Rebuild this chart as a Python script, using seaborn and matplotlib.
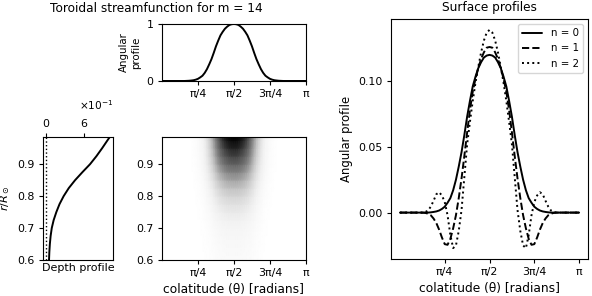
import numpy as np
import pandas as pd
import seaborn as sns
import matplotlib.pyplot as plt

# half profiles: from the equator (pi/2) outward, steps of pi/64
angular_half = [1.0, 0.996, 0.983, 0.954, 0.917, 0.863, 0.800, 0.708, 0.608, 0.492, 0.383,
                0.292, 0.208, 0.142, 0.092, 0.063, 0.038, 0.023, 0.013, 0.008, 0.004, 0.002,
                0, 0, 0, 0, 0, 0, 0, 0, 0, 0, 0]
n0_half = [0.1200, 0.1195, 0.1180, 0.1145, 0.1100, 0.1035, 0.0960, 0.0850, 0.0730, 0.0590,
           0.0460, 0.0350, 0.0250, 0.0170, 0.0110, 0.0075, 0.0045, 0.0028, 0.0016, 0.0009,
           0.0005, 0.0002, 0, 0, 0, 0, 0, 0, 0, 0, 0, 0, 0]
n1_half = [0.126, 0.1255, 0.122, 0.117, 0.110, 0.102, 0.092, 0.078, 0.061, 0.043, 0.026,
           0.011, -0.002, -0.012, -0.020, -0.0245, -0.024, -0.019, -0.013, -0.008, -0.0045,
           -0.002, -0.0008, -0.0002, 0, 0, 0, 0, 0, 0, 0, 0, 0]
n2_half = [0.139, 0.137, 0.131, 0.122, 0.111, 0.099, 0.085, 0.069, 0.052, 0.027, 0.002,
           -0.014, -0.025, -0.027, -0.017, -0.002, 0.008, 0.013, 0.0155, 0.014, 0.009,
           0.0045, 0.0015, 0.0004, 0, 0, 0, 0, 0, 0, 0, 0, 0]

# radial profile
r_grid = [0.600, 0.625, 0.650, 0.675, 0.700, 0.725, 0.750, 0.775, 0.800, 0.825, 0.850,
          0.875, 0.900, 0.925, 0.950, 0.975, 0.985]
depth_profile = [0.045, 0.050, 0.058, 0.070, 0.088, 0.118, 0.160, 0.210, 0.275, 0.355,
                 0.455, 0.570, 0.690, 0.790, 0.880, 0.965, 1.000]

theta_ticks = [np.pi / 4, np.pi / 2, 3 * np.pi / 4, np.pi]
theta_labels = ['π/4', 'π/2', '3π/4', 'π']


def mirror(half):
    '''
    Build the full (symmetric about pi/2) profile from the half read off the chart
    '''
    half = np.asarray(half, dtype=float)
    return np.concatenate([half[::-1], half[1:]])


theta = np.linspace(0, np.pi, 65)
angular = mirror(angular_half)
r = np.asarray(r_grid)
depth = np.asarray(depth_profile)

sns.set_style("ticks", {"axes.edgecolor": "black", "text.color": "black",
                        "axes.labelcolor": "black", "xtick.color": "black",
                        "ytick.color": "black"})
plt.rcParams.update({"font.size": 8.5, "axes.titlesize": 8.7, "axes.labelsize": 8.5,
                     "xtick.labelsize": 7.9, "ytick.labelsize": 7.9, "legend.fontsize": 7.4,
                     "axes.linewidth": 0.8, "xtick.major.size": 3.1, "ytick.major.size": 3.1,
                     "xtick.major.pad": 3.0, "ytick.major.pad": 3.0,
                     "axes.labelpad": 3.5, "axes.titlepad": 5.5})

fig = plt.figure(figsize=(5.92, 2.96), dpi=100)
ax_top = fig.add_axes([0.2736, 0.7264, 0.2432, 0.1926])
ax_map = fig.add_axes([0.2736, 0.1216, 0.2432, 0.4155])
ax_depth = fig.add_axes([0.0726, 0.1216, 0.1182, 0.4155])
ax_surf = fig.add_axes([0.6605, 0.125, 0.3328, 0.8108])

# angular profile on top
sns.lineplot(x=theta, y=angular, color='k', lw=1.4, ax=ax_top)
ax_top.set_xlim(0, np.pi)
ax_top.set_ylim(0, 1)
ax_top.set_yticks([0, 1])
ax_top.set_xticks(theta_ticks, theta_labels)
ax_top.set_ylabel('Angular\nprofile', fontsize=7.4, labelpad=4)

# streamfunction map
ax_map.pcolormesh(theta, r, np.outer(depth, angular), cmap='Greys', vmin=0, vmax=1,
                  shading='gouraud')
ax_map.set_xlim(0, np.pi)
ax_map.set_ylim(0.6, 0.985)
ax_map.set_xticks(theta_ticks, theta_labels)
ax_map.set_yticks([0.6, 0.7, 0.8, 0.9])
ax_map.set_xlabel('colatitude (θ) [radians]', fontsize=8.8)

# depth profile
ax_depth.axvline(0, color='k', ls=':', lw=1)
sns.lineplot(x=depth, y=r, orient='y', sort=False, color='k', lw=1.4, ax=ax_depth)
ax_depth.set_ylim(0.6, 0.985)
ax_depth.set_yticks([0.6, 0.7, 0.8, 0.9])
ax_depth.xaxis.tick_top()
ax_depth.set_xticks([0, 0.6])
ax_depth.ticklabel_format(axis='x', style='sci', scilimits=(0, 0), useMathText=True)
ax_depth.xaxis.get_offset_text().set_fontsize(7.6)
ax_depth.set_xlabel('Depth profile', fontsize=8.0, labelpad=2)
ax_depth.set_ylabel(r'$r/R_\odot$', fontsize=8.2)

fig.text(156 / 592, 0.971, 'Toroidal streamfunction for m = 14', ha='center', va='center',
         fontsize=8.7)

# surface profiles
surf = pd.DataFrame({'theta': np.tile(theta, 3),
                     'value': np.concatenate([mirror(n0_half), mirror(n1_half), mirror(n2_half)]),
                     'n': np.repeat(['n = 0', 'n = 1', 'n = 2'], len(theta))})
for label, ls in zip(['n = 0', 'n = 1', 'n = 2'], ['-', '--', ':']):
    sub = surf[surf['n'] == label]
    sns.lineplot(data=sub, x='theta', y='value', color='k', ls=ls, lw=1.4, label=label,
                 ax=ax_surf)
ax_surf.set_xticks(theta_ticks, theta_labels)
ax_surf.set_yticks([0.0, 0.05, 0.10])
ax_surf.set_xlabel('colatitude (θ) [radians]', fontsize=8.8)
ax_surf.set_ylabel('Angular profile', fontsize=8.4)
ax_surf.set_title('Surface profiles')
ax_surf.legend(loc='upper right')

fig.savefig('out.png', dpi=100)
